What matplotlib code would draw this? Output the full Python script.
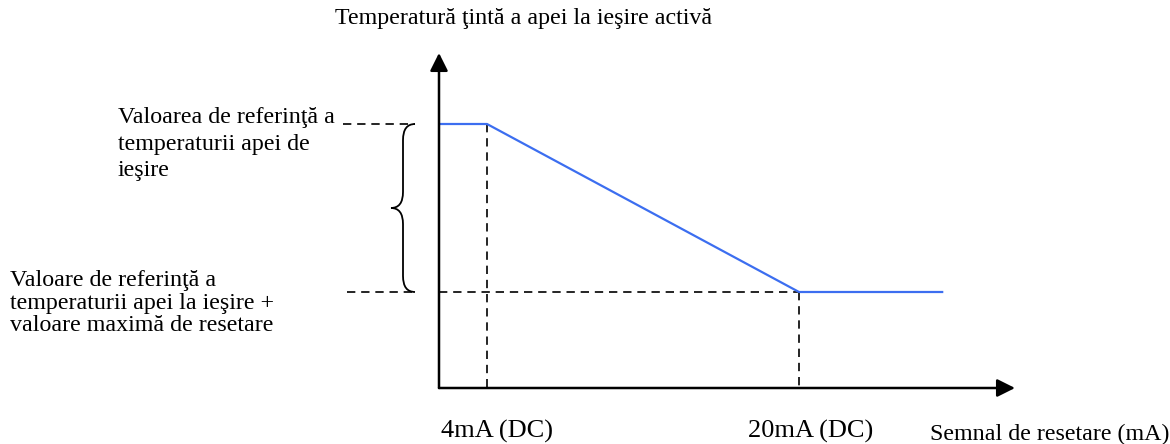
import matplotlib
matplotlib.use('Agg')
import matplotlib.pyplot as plt
from matplotlib.path import Path
from matplotlib.patches import PathPatch

plt.rcParams['font.family'] = ['Liberation Serif', 'DejaVu Serif']

# data
signal_ma = [1.54, 4, 20, 27.4]          # reset signal (mA)
target_level = [1.0, 1.0, 0.0, 0.0]      # 1 = setpoint, 0 = setpoint + max reset
low_ma, high_ma = 4, 20
setpoint, setpoint_reset = 1.0, 0.0

title_txt = 'Temperatură ţintă a apei la ieşire activă'
xlabel_txt = 'Semnal de resetare (mA)'
tick_txt = ['4mA (DC)', '20mA (DC)']
top_lines = ['Valoarea de referinţă a', 'temperaturii apei de', 'ieşire']
bot_lines = ['Valoare de referinţă a', 'temperaturii apei la ieşire +',
             'valoare maximă de resetare']

W, H = 1170, 444
fig = plt.figure(figsize=(W / 100, H / 100), dpi=100)
ax = fig.add_axes([0, 0, 1, 1])
ax.axis('off')

# scale: 19.5 px per mA, 168 px per level unit, origin at px (439, 388)
kx, ky = 19.5, 168.0
x0 = low_ma - (487 - 439) / kx
ax.set_xlim(x0 - 439 / kx, x0 + (W - 439) / kx)
ax.set_ylim(1 - (H - 124) / ky, 1 + 124 / ky)
y_axis0 = 1 - (388 - 124) / ky
x_tip = x0 + (1015 - 439) / kx
y_tip = 1 + (124 - 53) / ky


def at(xp, yp):
    return xp / W, 1 - yp / H


# axes with arrow heads
arw = dict(arrowstyle='-|>', lw=1.8, color='k', mutation_scale=27,
           shrinkA=0, shrinkB=0)
ax.annotate('', xy=(x_tip, y_axis0), xytext=(x0, y_axis0), arrowprops=arw)
ax.annotate('', xy=(x0, y_tip), xytext=(x0, y_axis0), arrowprops=arw)

# dashed helper lines
dash = dict(color='k', lw=1.2, dashes=(5, 3.5))
ax.plot([low_ma, low_ma], [setpoint, y_axis0], **dash)
ax.plot([high_ma, high_ma], [setpoint_reset, y_axis0], **dash)
ax.plot([x0, high_ma], [setpoint_reset, setpoint_reset], **dash)
ax.plot([x0 - 96 / kx, x0 - 24 / kx], [setpoint, setpoint], **dash)
ax.plot([x0 - 92 / kx, x0 - 24 / kx], [setpoint_reset, setpoint_reset], **dash)

# the curve
ax.plot(signal_ma, target_level, color='#3c6ef0', lw=1.6,
        solid_capstyle='butt')

# curly brace between the two levels
bx = x0 - 36 / kx
bw = 12 / kx
r = 16 / ky
ym = (setpoint + setpoint_reset) / 2
verts = [(bx + bw, setpoint), (bx, setpoint), (bx, setpoint - r),
         (bx, ym + r), (bx, ym), (bx - bw, ym),
         (bx, ym), (bx, ym - r),
         (bx, setpoint_reset + r), (bx, setpoint_reset), (bx + bw, setpoint_reset)]
codes = [Path.MOVETO, Path.CURVE3, Path.CURVE3,
         Path.LINETO, Path.CURVE3, Path.CURVE3,
         Path.CURVE3, Path.CURVE3,
         Path.LINETO, Path.CURVE3, Path.CURVE3]
ax.add_patch(PathPatch(Path(verts, codes), fill=False, lw=1.3, color='k'))

# texts
fs = 17.3
tr = fig.transFigure
ax.text(*at(335, 24), title_txt, fontsize=fs, va='baseline', transform=tr)
for i, s in enumerate(top_lines):
    ax.text(*at(118, 123 + 26.5 * i), s, fontsize=fs, va='baseline', transform=tr)
for i, s in enumerate(bot_lines):
    ax.text(*at(10, 286 + 22.5 * i), s, fontsize=fs, va='baseline', transform=tr)
ax.text(*at(441, 438), tick_txt[0], fontsize=19, va='baseline', transform=tr)
ax.text(*at(748, 438), tick_txt[1], fontsize=19, va='baseline', transform=tr)
ax.text(*at(930, 440), xlabel_txt, fontsize=fs, va='baseline', transform=tr)

fig.savefig('out.png', dpi=100)
